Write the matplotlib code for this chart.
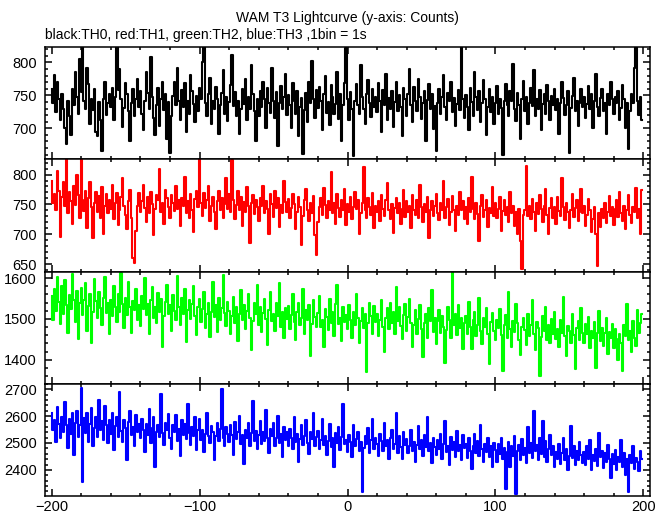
import numpy as np
import matplotlib
matplotlib.use("Agg")
import matplotlib.pyplot as plt
from matplotlib.ticker import MultipleLocator

plt.rcParams["font.family"] = ["Liberation Sans", "DejaVu Sans"]

# time bins (1 bin = 1 s), relative to T0
time_bins = list(range(-200, 200))

# TH0 counts (black)
th0 = [
    760, 738, 781, 725, 770, 744, 712, 752, 730, 701, 676, 742, 718, 690, 760, 735, 786, 748, 722, 805,
    755, 830, 742, 730, 792, 768, 706, 744, 728, 760, 695, 688, 740, 712, 666, 745, 771, 720, 739, 752,
    733, 761, 712, 748, 826, 758, 790, 744, 702, 731, 769, 752, 726, 680, 738, 760, 719, 744, 775, 733,
    757, 721, 698, 742, 786, 754, 729, 808, 747, 715, 690, 736, 761, 703, 744, 771, 728, 752, 684, 740,
    663, 718, 749, 770, 736, 792, 741, 712, 758, 733, 769, 695, 741, 722, 781, 756, 737, 710, 749, 727,
    762, 744, 801, 830, 738, 719, 752, 776, 707, 741, 729, 763, 745, 692, 735, 754, 788, 722, 747, 711,
    740, 766, 812, 734, 755, 718, 741, 692, 729, 760, 737, 775, 713, 748, 730, 796, 752, 727, 681, 744,
    719, 757, 733, 770, 745, 701, 762, 738, 724, 791, 742, 716, 755, 673, 738, 764, 729, 747, 782, 720,
    751, 735, 700, 769, 741, 722, 757, 688, 733, 746, 661, 728, 754, 710, 771, 739, 802, 745, 715, 758,
    731, 763, 742, 697, 752, 779, 724, 740, 705, 766, 748, 721, 737, 786, 714, 752, 680, 736, 769, 822,
    745, 712, 755, 729, 658, 741, 767, 735, 721, 796, 748, 730, 706, 752, 774, 739, 717, 760, 733, 748,
    725, 769, 741, 694, 758, 736, 782, 713, 746, 729, 757, 702, 740, 771, 726, 750, 733, 688, 762, 744,
    718, 752, 790, 735, 709, 763, 741, 727, 775, 748, 714, 738, 756, 681, 743, 767, 730, 752, 699, 734,
    665, 739, 760, 722, 748, 781, 733, 712, 754, 741, 770, 725, 746, 703, 737, 758, 728, 829, 744, 716,
    751, 733, 697, 762, 740, 719, 785, 747, 728, 756, 710, 738, 773, 744, 690, 732, 759, 725, 748, 706,
    739, 764, 722, 745, 731, 660, 741, 768, 735, 718, 757, 742, 797, 729, 711, 753, 736, 684, 745, 772,
    726, 748, 707, 739, 761, 734, 788, 719, 745, 730, 758, 698, 737, 752, 721, 766, 741, 713, 749, 735,
    760, 728, 744, 692, 739, 771, 746, 720, 735, 757, 662, 731, 749, 776, 726, 742, 704, 738, 760, 733,
    748, 715, 737, 764, 729, 752, 700, 741, 783, 733, 719, 746, 760, 727, 739, 691, 752, 735, 770, 744,
    722, 748, 738, 757, 712, 731, 766, 744, 700, 739, 668, 727, 752, 739, 792, 826, 741, 720, 748, 712,
]

# TH1 counts (red)
th1 = [
    790, 752, 768, 741, 806, 773, 695, 762, 787, 748, 828, 735, 770, 756, 718, 781, 749, 800, 765, 727,
    824, 758, 739, 772, 710, 760, 787, 745, 693, 752, 771, 738, 764, 728, 779, 700, 748, 767, 735, 757,
    742, 782, 726, 753, 769, 715, 741, 763, 795, 748, 732, 709, 756, 774, 727, 661, 652, 705, 748, 769,
    738, 756, 782, 744, 721, 762, 735, 771, 750, 699, 743, 766, 758, 810, 737, 752, 718, 774, 760, 745,
    728, 765, 752, 739, 780, 743, 757, 714, 761, 748, 796, 735, 755, 727, 768, 741, 704, 759, 772, 746,
    826, 752, 731, 769, 744, 758, 781, 722, 747, 763, 738, 709, 755, 772, 740, 760, 728, 751, 794, 743,
    768, 738, 825, 757, 726, 749, 772, 741, 762, 713, 754, 737, 779, 748, 686, 752, 766, 734, 758, 745,
    722, 761, 748, 780, 735, 756, 742, 700, 767, 751, 729, 773, 744, 760, 712, 749, 736, 790, 754, 738,
    759, 727, 744, 768, 751, 709, 738, 762, 745, 682, 731, 757, 775, 740, 722, 752, 736, 764, 698, 665,
    720, 746, 760, 733, 778, 749, 727, 755, 741, 805, 736, 752, 718, 767, 744, 729, 758, 740, 775, 716,
    750, 738, 763, 726, 745, 771, 742, 757, 700, 735, 752, 812, 741, 727, 760, 746, 733, 769, 711, 748,
    738, 755, 722, 766, 743, 731, 757, 786, 740, 725, 750, 702, 744, 761, 735, 753, 718, 742, 774, 729,
    756, 737, 748, 710, 765, 741, 733, 758, 727, 783, 745, 720, 751, 738, 762, 693, 740, 756, 731, 747,
    768, 735, 724, 752, 741, 790, 728, 746, 759, 715, 738, 764, 741, 706, 748, 733, 771, 740, 755, 726,
    745, 718, 760, 737, 796, 742, 725, 753, 734, 689, 748, 766, 729, 741, 757, 712, 744, 735, 779, 731,
    752, 728, 743, 762, 705, 739, 757, 733, 746, 720, 771, 735, 748, 714, 738, 701, 742, 688, 642, 733,
    740, 814, 731, 748, 725, 759, 738, 705, 752, 734, 766, 742, 721, 747, 775, 733, 701, 744, 760, 728,
    745, 718, 762, 739, 731, 794, 746, 724, 752, 737, 710, 741, 768, 729, 744, 757, 722, 738, 776, 735,
    748, 713, 733, 759, 741, 704, 726, 745, 700, 646, 735, 712, 743, 727, 752, 719, 738, 764, 730, 745,
    716, 742, 757, 729, 771, 736, 723, 748, 709, 740, 765, 732, 719, 746, 738, 778, 727, 743, 700, 774,
]

# TH2 counts (green)
th2 = [
    1555, 1498, 1572, 1520, 1603, 1541, 1487, 1580, 1512, 1595, 1534, 1466, 1558, 1523, 1610, 1547, 1492, 1569, 1451, 1538,
    1575, 1509, 1546, 1588, 1470, 1532, 1561, 1440, 1518, 1597, 1543, 1501, 1566, 1527, 1484, 1552, 1603, 1515, 1538, 1462,
    1545, 1507, 1580, 1529, 1493, 1560, 1518, 1612, 1536, 1478, 1551, 1509, 1590, 1530, 1466, 1544, 1521, 1572, 1498, 1533,
    1482, 1556, 1524, 1601, 1510, 1537, 1463, 1545, 1579, 1502, 1529, 1491, 1564, 1517, 1548, 1430, 1506, 1541, 1584, 1512,
    1535, 1470, 1558, 1519, 1497, 1604, 1528, 1485, 1550, 1513, 1572, 1444, 1522, 1546, 1499, 1537, 1581, 1508, 1461, 1529,
    1548, 1493, 1525, 1566, 1477, 1512, 1539, 1455, 1518, 1590, 1504, 1533, 1468, 1551, 1496, 1527, 1608, 1515, 1482, 1541,
    1520, 1462, 1508, 1553, 1490, 1528, 1445, 1512, 1571, 1498, 1535, 1476, 1519, 1560, 1503, 1423, 1494, 1538, 1511, 1582,
    1486, 1529, 1467, 1514, 1548, 1500, 1437, 1522, 1566, 1495, 1513, 1470, 1540, 1506, 1589, 1481, 1518, 1452, 1527, 1499,
    1532, 1474, 1509, 1561, 1493, 1448, 1517, 1540, 1485, 1502, 1574, 1463, 1521, 1497, 1533, 1410, 1488, 1546, 1505, 1479,
    1514, 1556, 1480, 1497, 1431, 1523, 1505, 1472, 1549, 1491, 1516, 1459, 1537, 1583, 1487, 1502, 1445, 1528, 1493, 1510,
    1474, 1533, 1498, 1452, 1517, 1486, 1560, 1503, 1441, 1495, 1526, 1478, 1512, 1369, 1489, 1540, 1507, 1463, 1531, 1492,
    1512, 1458, 1497, 1545, 1481, 1420, 1503, 1526, 1474, 1539, 1490, 1517, 1462, 1579, 1495, 1528, 1483, 1451, 1509, 1536,
    1470, 1505, 1548, 1491, 1432, 1486, 1521, 1463, 1499, 1534, 1476, 1407, 1489, 1512, 1454, 1527, 1495, 1570, 1468, 1501,
    1439, 1494, 1522, 1465, 1508, 1480, 1391, 1473, 1529, 1497, 1452, 1614, 1486, 1511, 1460, 1535, 1477, 1503, 1426, 1490,
    1508, 1462, 1541, 1479, 1425, 1496, 1517, 1458, 1485, 1551, 1470, 1438, 1502, 1479, 1527, 1463, 1389, 1492, 1514, 1471,
    1449, 1498, 1477, 1523, 1461, 1372, 1484, 1509, 1452, 1565, 1476, 1431, 1495, 1468, 1536, 1489, 1447, 1412, 1480, 1503,
    1472, 1437, 1511, 1459, 1486, 1546, 1464, 1423, 1492, 1478, 1361, 1455, 1507, 1470, 1528, 1449, 1485, 1441, 1499, 1463,
    1518, 1450, 1476, 1431, 1497, 1466, 1553, 1458, 1408, 1483, 1470, 1442, 1512, 1461, 1377, 1478, 1495, 1449, 1526, 1465,
    1440, 1487, 1462, 1505, 1428, 1471, 1453, 1492, 1380, 1466, 1519, 1445, 1478, 1434, 1465, 1501, 1413, 1469, 1452, 1488,
    1429, 1476, 1450, 1398, 1463, 1441, 1372, 1485, 1458, 1537, 1447, 1470, 1418, 1495, 1454, 1433, 1522, 1466, 1490, 1512,
]

# TH3 counts (blue)
th3 = [
    2610, 2548, 2585, 2502, 2633, 2570, 2519, 2598, 2541, 2652, 2567, 2483, 2590, 2532, 2611, 2455, 2575, 2620, 2523, 2566,
    2704, 2356, 2592, 2538, 2611, 2505, 2569, 2630, 2487, 2557, 2596, 2524, 2661, 2548, 2580, 2512, 2639, 2566, 2499, 2587,
    2533, 2610, 2475, 2563, 2598, 2521, 2690, 2545, 2502, 2584, 2556, 2437, 2578, 2620, 2531, 2559, 2490, 2603, 2542, 2571,
    2518, 2588, 2547, 2465, 2572, 2530, 2627, 2501, 2556, 2598, 2412, 2540, 2565, 2524, 2681, 2537, 2493, 2574, 2550, 2609,
    2520, 2479, 2566, 2541, 2603, 2508, 2552, 2450, 2587, 2530, 2571, 2514, 2645, 2538, 2493, 2561, 2526, 2598, 2475, 2547,
    2589, 2511, 2548, 2467, 2534, 2612, 2525, 2499, 2563, 2540, 2438, 2527, 2574, 2506, 2552, 2699, 2520, 2488, 2559, 2533,
    2502, 2566, 2531, 2455, 2579, 2514, 2540, 2600, 2497, 2528, 2421, 2550, 2518, 2573, 2489, 2537, 2655, 2509, 2545, 2476,
    2530, 2582, 2496, 2541, 2509, 2623, 2518, 2462, 2553, 2527, 2574, 2488, 2520, 2602, 2499, 2535, 2448, 2561, 2512, 2540,
    2487, 2551, 2520, 2479, 2596, 2503, 2534, 2430, 2515, 2568, 2492, 2527, 2584, 2501, 2458, 2542, 2516, 2610, 2489, 2523,
    2546, 2478, 2512, 2590, 2493, 2527, 2455, 2508, 2571, 2486, 2519, 2409, 2537, 2500, 2558, 2474, 2522, 2643, 2495, 2511,
    2468, 2530, 2503, 2447, 2566, 2489, 2514, 2541, 2472, 2502, 2318, 2481, 2525, 2497, 2554, 2463, 2510, 2588, 2478, 2520,
    2495, 2451, 2532, 2506, 2469, 2573, 2487, 2511, 2440, 2519, 2550, 2476, 2498, 2612, 2464, 2527, 2485, 2439, 2542, 2493,
    2516, 2461, 2489, 2548, 2472, 2505, 2431, 2493, 2564, 2478, 2510, 2452, 2530, 2486, 2597, 2469, 2501, 2425, 2520, 2484,
    2454, 2511, 2478, 2533, 2442, 2497, 2580, 2466, 2489, 2418, 2521, 2475, 2505, 2448, 2546, 2470, 2493, 2437, 2528, 2481,
    2497, 2443, 2520, 2471, 2405, 2488, 2535, 2462, 2509, 2453, 2568, 2476, 2431, 2498, 2465, 2520, 2447, 2489, 2412, 2501,
    2473, 2430, 2495, 2458, 2517, 2440, 2481, 2328, 2466, 2502, 2410, 2487, 2452, 2526, 2311, 2469, 2494, 2438, 2514, 2456,
    2481, 2425, 2559, 2462, 2500, 2443, 2618, 2470, 2492, 2437, 2520, 2459, 2583, 2448, 2507, 2431, 2476, 2529, 2454, 2490,
    2412, 2468, 2440, 2495, 2423, 2461, 2518, 2436, 2479, 2401, 2452, 2563, 2444, 2487, 2419, 2470, 2435, 2502, 2456, 2426,
    2467, 2420, 2489, 2441, 2511, 2398, 2455, 2432, 2476, 2416, 2538, 2447, 2470, 2408, 2462, 2429, 2493, 2440, 2371, 2458,
    2421, 2475, 2398, 2449, 2430, 2512, 2409, 2463, 2380, 2441, 2318, 2457, 2425, 2488, 2402, 2446, 2431, 2397, 2470, 2439,
]

series = [th0, th1, th2, th3]
colors = ["black", "#ff0000", "#00ff00", "#0000ff"]
ylims = [(653, 823.5), (637.6, 825.6), (1341, 1616), (2303, 2720)]
major_steps = [50, 50, 100, 100]
minor_steps = [10, 10, 20, 20]

fig, axes = plt.subplots(4, 1, sharex=True, figsize=(6.69, 5.15), dpi=100)
fig.subplots_adjust(left=0.0673, right=0.9716, top=0.9087, bottom=0.0369, hspace=0)

for ax, y, c, yl, mj, mn in zip(axes, series, colors, ylims, major_steps, minor_steps):
    ax.plot(time_bins, y, color=c, lw=1.5, drawstyle="steps-mid")
    ax.set_xlim(-204.5, 204.5)
    ax.set_ylim(*yl)
    ax.xaxis.set_major_locator(MultipleLocator(100))
    ax.xaxis.set_minor_locator(MultipleLocator(20))
    ax.yaxis.set_major_locator(MultipleLocator(mj))
    ax.yaxis.set_minor_locator(MultipleLocator(mn))
    ax.tick_params(which="both", direction="in", top=True, right=True, width=1.1,
                   labelsize=10.5, pad=6)
    ax.tick_params(which="major", length=5)
    ax.tick_params(which="minor", length=2.5)
    ax.tick_params(axis="x", pad=3)
    for s in ax.spines.values():
        s.set_linewidth(1.1)

fig.text(0.519, 0.965, "WAM T3 Lightcurve (y-axis: Counts)", ha="center", va="center", fontsize=10)
fig.text(0.068, 0.932, "black:TH0, red:TH1, green:TH2, blue:TH3 ,1bin = 1s", ha="left", va="center", fontsize=10)

fig.savefig("out.png", dpi=100)
